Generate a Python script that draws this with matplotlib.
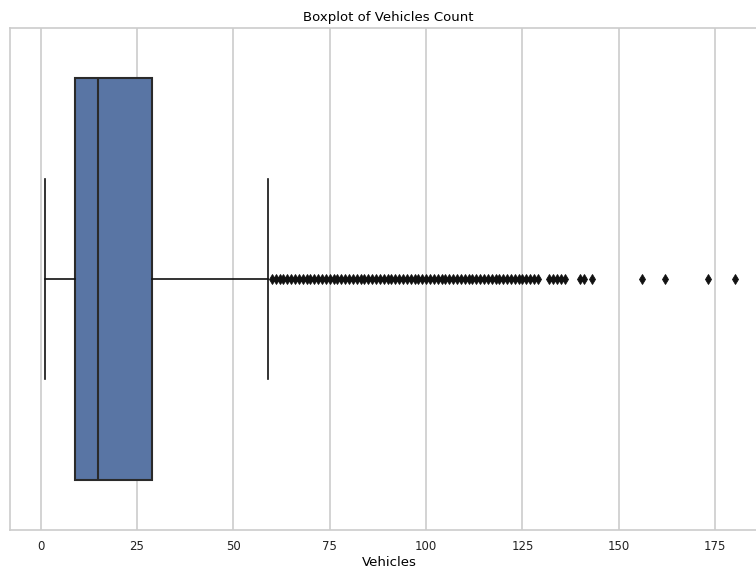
import matplotlib
matplotlib.use("Agg")
import matplotlib.pyplot as plt
import numpy as np

# Data
q1 = 9
median = 15
q3 = 29
whisker_low = 1
whisker_high = 59
dense_outliers = list(range(60, 130))
sparse_outliers = [132, 133, 134, 135, 136, 140, 141, 143, 156, 162, 173, 180]
xticks = [0, 25, 50, 75, 100, 125, 150, 175]

fliers = np.array(dense_outliers + sparse_outliers, dtype=float)
stats = [dict(med=median, q1=q1, q3=q3, whislo=whisker_low, whishi=whisker_high,
              fliers=fliers)]

fig = plt.figure(figsize=(7.56, 5.71), dpi=100)
# axes extends beyond right edge (reference is cropped)
ax = fig.add_axes([10/756, 1 - 530/571, 759/756, 502/571])

line_c = "#2a2a2a"
ax.bxp(stats, positions=[0], vert=False, widths=0.8, patch_artist=True,
       boxprops=dict(facecolor="#5975a4", edgecolor=line_c, linewidth=1.5),
       medianprops=dict(color=line_c, linewidth=1.5),
       whiskerprops=dict(color="#111111", linewidth=1.2),
       capprops=dict(color="#111111", linewidth=1.2),
       capwidths=0.4,
       flierprops=dict(marker="d", markerfacecolor="#111111", markeredgecolor="#111111",
                       markersize=5.5, markeredgewidth=0.6, linestyle="none"))

ax.set_ylim(0.5, -0.5)
ax.set_xlim(-7.95, 188.95)
ax.set_xticks(xticks)
ax.set_yticks([])
ax.grid(axis="x", color="#cccccc", linewidth=1.2)
ax.set_axisbelow(True)
for s in ax.spines.values():
    s.set_color("#cccccc")
    s.set_linewidth(1.2)
ax.tick_params(axis="x", length=0, labelsize=8.5, pad=7, colors="#222222")
ax.set_xlabel("Vehicles", fontsize=9.5, labelpad=2)
ax.set_title("Boxplot of Vehicles Count", fontsize=9.5, pad=5)
ax.title.set_position((388 / 759 - 10 / 759, 1.0))

fig.savefig("out.png", dpi=100)
